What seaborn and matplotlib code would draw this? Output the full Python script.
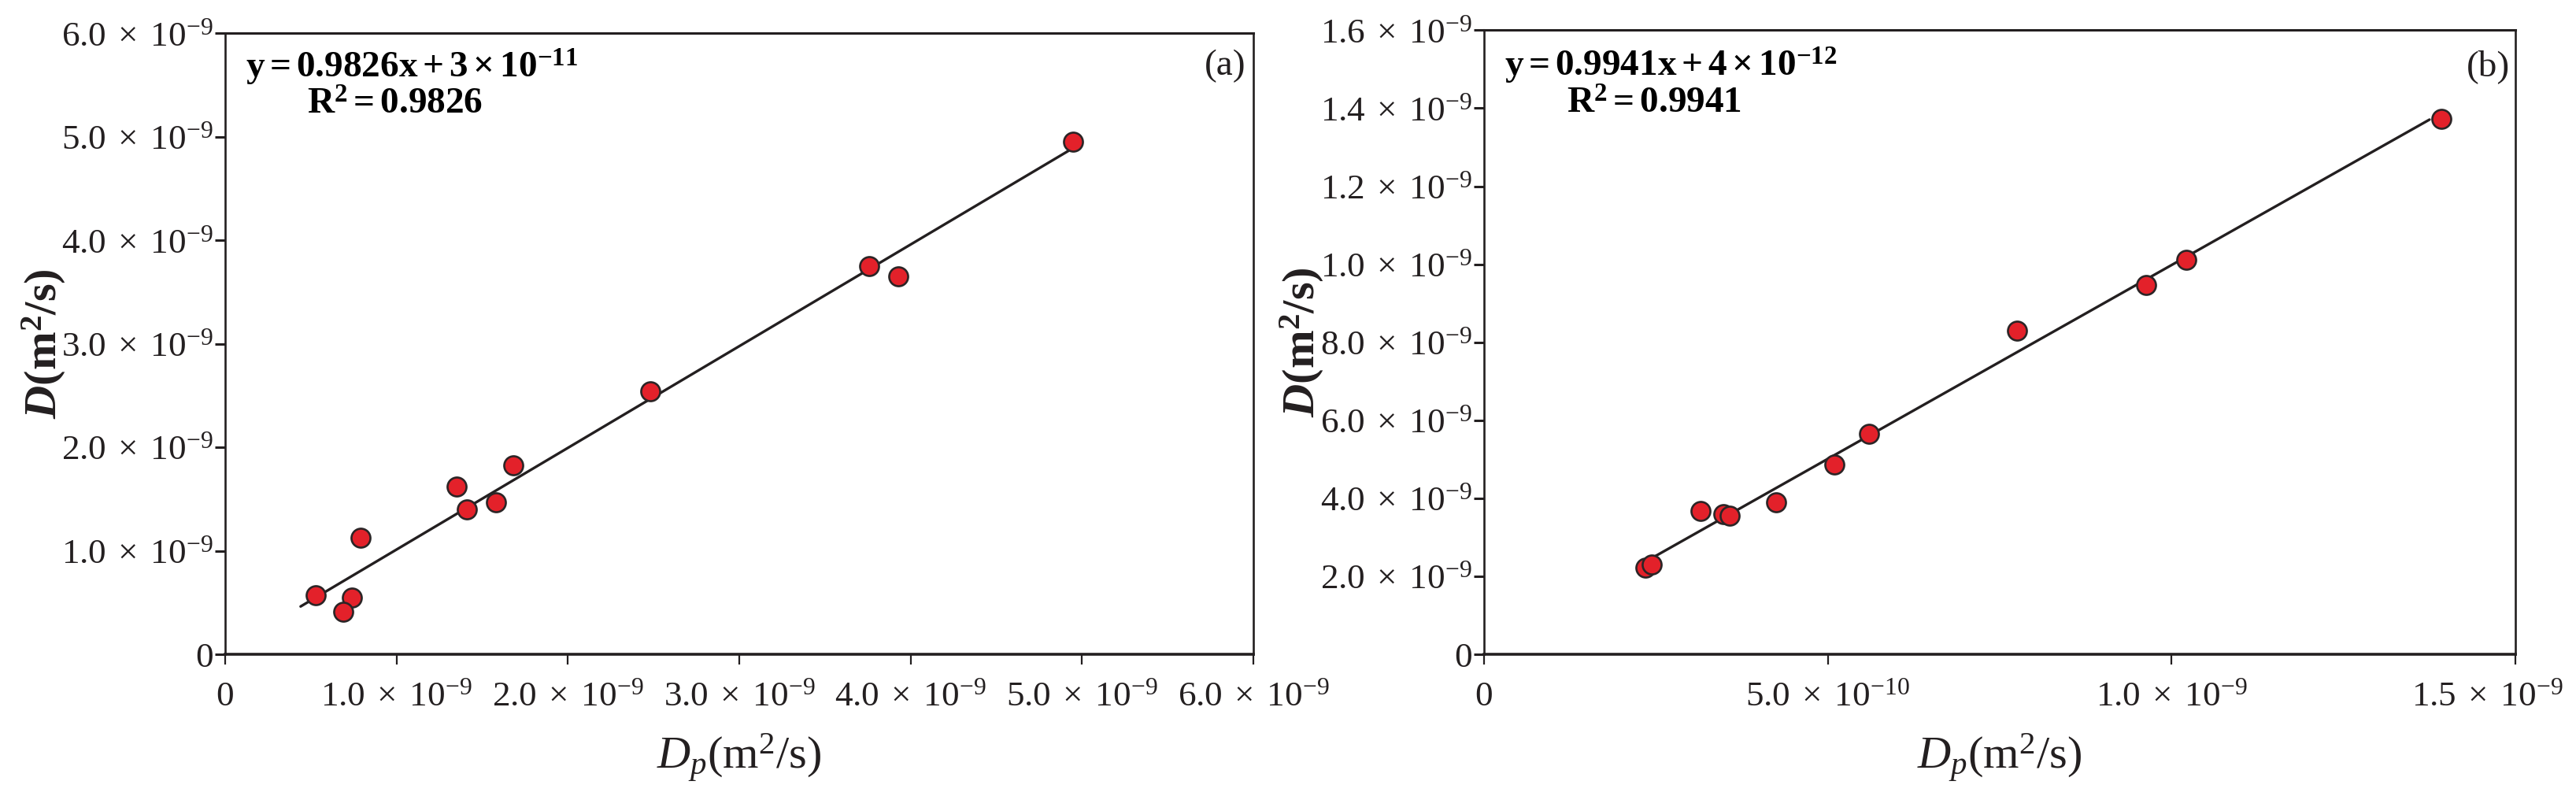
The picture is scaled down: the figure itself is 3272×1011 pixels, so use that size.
import numpy as np
import pandas as pd
import matplotlib
matplotlib.use("Agg")
import matplotlib.pyplot as plt
import matplotlib.transforms as mtransforms
import seaborn as sns
from matplotlib.ticker import FixedLocator, FixedFormatter

# ---------------- data (values in units of 1e-9 m^2/s) ----------------
dp_a = [0.53, 0.74, 0.69, 0.79, 1.35, 1.41, 1.58, 1.68, 2.48, 3.76, 3.93, 4.95]
d_a = [0.57, 0.55, 0.41, 1.13, 1.62, 1.40, 1.47, 1.83, 2.54, 3.75, 3.65, 4.95]
slope_a, intercept_a = 0.9826, 3e-11
fit_range_a = [0.44, 4.92]

dp_b = [0.235, 0.244, 0.315, 0.348, 0.357, 0.425, 0.510, 0.560, 0.775, 0.963, 1.021, 1.392]
d_b = [0.2215, 0.2296, 0.367, 0.360, 0.356, 0.390, 0.487, 0.565, 0.830, 0.947, 1.011, 1.372]
slope_b, intercept_b = 0.9941, 4e-12
fit_range_b = [0.244, 1.375]

eq_a = r"$\mathbf{y = 0.9826x + 3\times10^{-11}}$"
r2_a = r"$\mathbf{R^{2} = 0.9826}$"
eq_b = r"$\mathbf{y = 0.9941x + 4\times10^{-12}}$"
r2_b = r"$\mathbf{R^{2} = 0.9941}$"

xticks_a = [0, 1e-9, 2e-9, 3e-9, 4e-9, 5e-9, 6e-9]
xticklabels_a = ["0", "1.0", "2.0", "3.0", "4.0", "5.0", "6.0"]
xtickexp_a = [None, "-9", "-9", "-9", "-9", "-9", "-9"]
yticks_a = [0, 1e-9, 2e-9, 3e-9, 4e-9, 5e-9, 6e-9]
yticklabels_a = ["0", "1.0", "2.0", "3.0", "4.0", "5.0", "6.0"]
ytickexp_a = [None, "-9", "-9", "-9", "-9", "-9", "-9"]

xticks_b = [0, 5e-10, 1e-9, 1.5e-9]
xticklabels_b = ["0", "5.0", "1.0", "1.5"]
xtickexp_b = [None, "-10", "-9", "-9"]
yticks_b = [0, 2e-10, 4e-10, 6e-10, 8e-10, 1e-9, 1.2e-9, 1.4e-9, 1.6e-9]
yticklabels_b = ["0", "2.0", "4.0", "6.0", "8.0", "1.0", "1.2", "1.4", "1.6"]
ytickexp_b = [None, "-9", "-9", "-9", "-9", "-9", "-9", "-9", "-9"]

panel_labels = ["(a)", "(b)"]

# ---------------- style ----------------
sns.set_theme(style="ticks")
plt.rcParams["font.family"] = ["Liberation Serif", "DejaVu Serif"]
plt.rcParams["mathtext.fontset"] = "custom"
plt.rcParams["mathtext.rm"] = "Liberation Serif"
plt.rcParams["mathtext.it"] = "Liberation Serif:italic"
plt.rcParams["mathtext.bf"] = "Liberation Serif:bold"
plt.rcParams["mathtext.bfit"] = "Liberation Serif:italic:bold"

DARK = "#231f20"
RED = "#e3212a"
EDGE = "#2b2526"


def fmt(lbls, exps):
    out = []
    for l, e in zip(lbls, exps):
        if e is None:
            out.append(l)
        else:
            out.append(r"$\mathrm{" + l + r"\;\times\;10^{" + e + r"}}$")
    return out


fig = plt.figure(figsize=(32.73, 10.11), dpi=100)
ax_a = fig.add_axes([0.0874, 0.178, 0.399, 0.780])
ax_b = fig.add_axes([0.5759, 0.178, 0.4003, 0.784])

panels = [
    (ax_a, dp_a, d_a, slope_a, intercept_a, fit_range_a, eq_a, r2_a,
     xticks_a, fmt(xticklabels_a, xtickexp_a), yticks_a, fmt(yticklabels_a, ytickexp_a),
     (0, 6e-9), (0, 6e-9), (0.0199, 0.9455), (0.0796, 0.8847), (0.993, 0.947)),
    (ax_b, dp_b, d_b, slope_b, intercept_b, fit_range_b, eq_b, r2_b,
     xticks_b, fmt(xticklabels_b, xtickexp_b), yticks_b, fmt(yticklabels_b, ytickexp_b),
     (0, 1.5e-9), (0, 1.6e-9), (0.0198, 0.943), (0.080, 0.881), (0.9947, 0.9416)),
]

for i, (ax, xs, ys, k, b, fr, eq, r2, xt, xtl, yt, ytl, xlim, ylim, p_eq, p_r2, p_lab) in enumerate(panels):
    df = pd.DataFrame({"Dp": np.array(xs) * 1e-9, "D": np.array(ys) * 1e-9})
    fx = np.array(fr) * 1e-9
    fit = pd.DataFrame({"x": fx, "y": k * fx + b})
    sns.lineplot(data=fit, x="x", y="y", ax=ax, color=DARK, linewidth=2.4, zorder=2)
    sns.scatterplot(data=df, x="Dp", y="D", ax=ax, s=300, color=RED,
                    edgecolor=EDGE, linewidth=1.9, zorder=3, legend=False)
    ax.set_xlim(*xlim)
    ax.set_ylim(*ylim)
    ax.xaxis.set_major_locator(FixedLocator(xt))
    ax.xaxis.set_major_formatter(FixedFormatter(xtl))
    ax.yaxis.set_major_locator(FixedLocator(yt))
    ax.yaxis.set_major_formatter(FixedFormatter(ytl))
    ax.tick_params(axis="both", which="major", direction="out", length=9.5,
                   width=1.6, color=DARK, labelcolor=DARK, labelsize=32.5)
    ax.tick_params(axis="x", pad=15)
    ax.tick_params(axis="y", pad=1.5, width=2.2)
    for side, lw in [("left", 1.9), ("right", 1.9), ("top", 2.2), ("bottom", 2.6)]:
        ax.spines[side].set_visible(True)
        ax.spines[side].set_linewidth(lw)
        ax.spines[side].set_color(DARK)
    ax.set_xlabel(r"$\mathit{D}_{\mathit{p}}\mathrm{(m^{2}/s)}$", fontsize=42, color=DARK)
    ax.set_ylabel(r"$\mathbfit{D}\mathbf{(m^{2}/s)}$", fontsize=42, color=DARK)
    ax.xaxis.set_label_coords(0.5, -0.125)
    ax.yaxis.set_label_coords(-0.153, 0.5)
    ax.text(p_eq[0], p_eq[1], eq, transform=ax.transAxes, fontsize=34,
            color="black", ha="left", va="center")
    ax.text(p_r2[0], p_r2[1], r2, transform=ax.transAxes, fontsize=34,
            color="black", ha="left", va="center")
    ax.text(p_lab[0], p_lab[1], panel_labels[i], transform=ax.transAxes, fontsize=34,
            color=DARK, ha="right", va="center")

# last x tick label of panel (b) sits shifted left so it stays inside the figure
last = ax_b.get_xticklabels()[-1]
last.set_transform(last.get_transform() +
                   mtransforms.ScaledTranslation(-0.36, 0, fig.dpi_scale_trans))

fig.savefig("out.png", dpi=100)
